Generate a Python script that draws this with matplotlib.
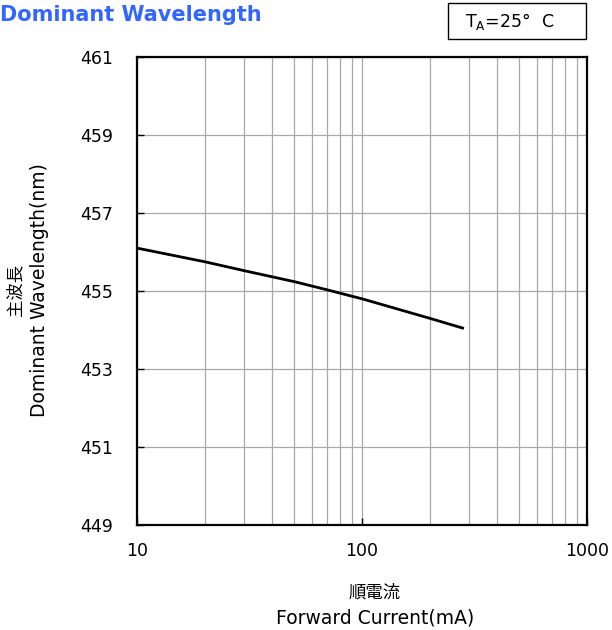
import matplotlib
matplotlib.use('Agg')
import matplotlib.pyplot as plt
from matplotlib.patches import Rectangle
from matplotlib.ticker import NullFormatter, LogLocator

plt.rcParams['font.family'] = ['DejaVu Sans', 'Noto Sans CJK JP']

# data
current = [10, 20, 30, 50, 70, 100, 200, 280]
wavelength = [456.1, 455.75, 455.52, 455.24, 455.03, 454.8, 454.3, 454.05]

y_ticks = [449, 451, 453, 455, 457, 459, 461]
x_ticks = [10, 100, 1000]

fig = plt.figure(figsize=(6.12, 6.3), dpi=100)
ax = fig.add_axes([137 / 612, 1 - 525 / 630, 450 / 612, 468 / 630])

ax.plot(current, wavelength, color='black', lw=2)

ax.set_xscale('log')
ax.set_xlim(10, 1000)
ax.set_ylim(449, 461)
ax.set_yticks(y_ticks)
ax.set_xticks(x_ticks)
ax.set_xticklabels(['10', '100', '1000'])
ax.xaxis.set_minor_locator(LogLocator(base=10, subs=range(2, 10)))
ax.xaxis.set_minor_formatter(NullFormatter())

ax.grid(True, which='both', axis='x', color='#a8a8a8', lw=0.9)
ax.grid(True, which='major', axis='y', color='#a8a8a8', lw=0.9)
ax.set_axisbelow(True)

for s in ax.spines.values():
    s.set_linewidth(1.6)
    s.set_color('black')

ax.tick_params(which='major', direction='in', length=5, width=1, labelsize=12.5)
ax.tick_params(axis='y', pad=17)
ax.tick_params(axis='x', pad=12)
ax.tick_params(which='minor', length=0)

fig.text(0.0, 1 - 15 / 630, 'Dominant Wavelength', color='#3366ff', fontsize=15,
         fontweight='bold', ha='left', va='center')

# temperature box
fig.patches.append(Rectangle((448 / 612, 1 - 39 / 630), 138 / 612, 36 / 630,
                             transform=fig.transFigure, fc='white', ec='black', lw=1))
fig.text(510 / 612, 1 - 22 / 630, r'T$_\mathregular{A}$=25°  C', fontsize=12.5,
         ha='center', va='center')

fig.text(15 / 612, 1 - 290 / 630, '主波長', rotation=90, fontsize=12.5,
         ha='center', va='center')
fig.text(40 / 612, 1 - 290 / 630, 'Dominant Wavelength(nm)', rotation=90, fontsize=13.5,
         ha='center', va='center')
fig.text(375 / 612, 1 - 593 / 630, '順電流', fontsize=12.5, ha='center', va='center')
fig.text(375 / 612, 1 - 618 / 630, 'Forward Current(mA)', fontsize=13.5,
         ha='center', va='center')

fig.savefig('out.png', dpi=100)
